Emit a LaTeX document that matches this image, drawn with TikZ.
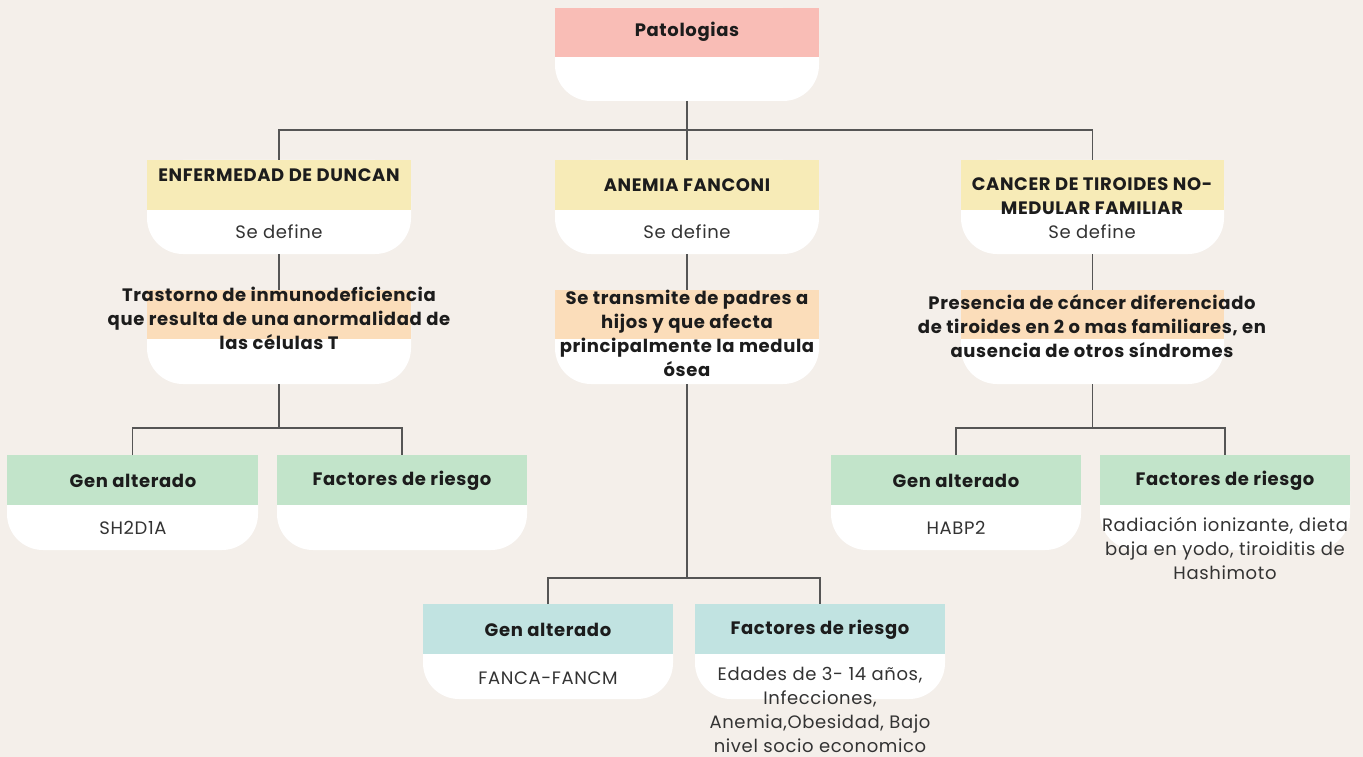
\documentclass[tikz,border=0pt]{standalone}
\usepackage{fontspec}
\setmainfont[LetterSpace=3.5]{Poppins}
\definecolor{bg}{HTML}{F4EFEA}
\definecolor{cpink}{HTML}{F9BDB6}
\definecolor{cyel}{HTML}{F7EBB7}
\definecolor{corg}{HTML}{FBDDBA}
\definecolor{cgrn}{HTML}{C2E4CA}
\definecolor{cteal}{HTML}{C1E3E1}
\definecolor{ink}{HTML}{1C1C1C}
\definecolor{inkr}{HTML}{333333}
\definecolor{wire}{HTML}{555555}
\tikzset{
  boxarea/.style={inner sep=0pt, outer sep=0pt, draw=none},
  btext/.style={font=\fontsize{18}{24}\selectfont\bfseries, text=ink, align=center, inner sep=0pt},
  rtext/.style={font=\fontsize{18}{24}\selectfont, text=inkr, align=center, inner sep=0pt},
  link/.style={draw=wire, line width=1.6pt},
}
% #1 name, #2 x1, #3 y1, #4 ymid, #5 x2, #6 y2, #7 colour
\newcommand{\mkbox}[7]{%
  \fill[white, rounded corners=36pt] (#2,#3) rectangle (#5,#6);
  \fill[#7] (#2,#3) rectangle (#5,#4);
  \node[boxarea, minimum width={(#5-#2)*1pt}, minimum height={(#6-#3)*1pt}] (#1) at ({(#2+#5)/2},{(#3+#6)/2}) {};
}
\begin{document}
\begin{tikzpicture}[x=1pt,y=-1pt]
\fill[bg] (0,0) rectangle (1363,757);
\useasboundingbox (0,0) rectangle (1363,757);

% boxes
\mkbox{pat}{555}{8}{57}{819}{101}{cpink}
\mkbox{dun}{147}{160}{210}{411}{254}{cyel}
\mkbox{ane}{555}{160}{210}{819}{254}{cyel}
\mkbox{can}{961}{160}{210}{1224}{254}{cyel}
\mkbox{dund}{147}{290}{339}{411}{384}{corg}
\mkbox{aned}{555}{290}{339}{819}{384}{corg}
\mkbox{cand}{961}{290}{339}{1224}{384}{corg}
\mkbox{dgen}{7}{455}{505}{258}{550}{cgrn}
\mkbox{dfac}{277}{455}{505}{527}{550}{cgrn}
\mkbox{agen}{423}{604}{654}{673}{699}{cteal}
\mkbox{afac}{695}{604}{654}{945}{699}{cteal}
\mkbox{cgen}{831}{455}{505}{1081}{550}{cgrn}
\mkbox{cfac}{1100}{455}{505}{1350}{550}{cgrn}

% connectors
\draw[link] (pat.south) -- (ane.north);
\draw[link] (dun.north) -- ++(0,-30) coordinate (jtop) -| (can.north);
\draw[link] (dun.south) -- (dund.north);
\draw[link] (ane.south) -- (aned.north);
\draw[link] (can.south) -- (cand.north);
\draw[link] (dund.south) -- ++(0,44) coordinate (jd);
\draw[link] (dgen.north) |- (jd) -| (dfac.north);
\draw[link] (aned.south) -- ++(0,194) coordinate (ja);
\draw[link] (agen.north) |- (ja) -| (afac.north);
\draw[link] (cand.south) -- ++(0,44) coordinate (jc);
\draw[link] (cgen.north) |- (jc) -| (cfac.north);

% texts
\node[btext] (tpat) at (687,32) {Patologias};
\node[btext] (tdun) at (279,175) {ENFERMEDAD DE DUNCAN};
\node[rtext] (tdun2) at (279,232) {Se define};
\node[btext] (tane) at (687,185) {ANEMIA FANCONI};
\node[rtext] (tane2) at (687,232) {Se define};
\node[btext, anchor=north] (tcan) at (1092,177) {CANCER DE TIROIDES NO-\\MEDULAR FAMILIAR};
\node[rtext] (tcan2) at (1092,232) {Se define};
\node[btext, anchor=north] (tdund) at (279,287) {Trastorno de inmunodeficiencia\\que resulta de una anormalidad de\\las células T};
\node[btext, anchor=north] (taned) at (687,290) {Se transmite de padres a\\hijos y que afecta\\principalmente la medula\\ósea};
\node[btext, anchor=north] (tcand) at (1092,294) {Presencia de cáncer diferenciado\\de tiroides en 2 o mas familiares, en\\ausencia de otros síndromes};
\node[btext] (tdgen) at (133,481) {Gen alterado};
\node[rtext] (tdgen2) at (133,528) {SH2D1A};
\node[btext] (tdfac) at (402,481) {Factores de riesgo};
\node[btext] (tagen) at (548,630) {Gen alterado};
\node[rtext] (tagen2) at (548,678) {FANCA-FANCM};
\node[btext] (tafac) at (820,630) {Factores de riesgo};
\node[rtext, anchor=north] (tafac2) at (820,667) {Edades de 3- 14 años,\\Infecciones,\\Anemia,Obesidad, Bajo\\nivel socio economico};
\node[btext] (tcgen) at (956,481) {Gen alterado};
\node[rtext] (tcgen2) at (956,528) {HABP2};
\node[btext] (tcfac) at (1225,481) {Factores de riesgo};
\node[rtext, anchor=north] (tcfac2) at (1225,517) {Radiación ionizante, dieta\\baja en yodo, tiroiditis de\\Hashimoto};
\end{tikzpicture}
\end{document}
